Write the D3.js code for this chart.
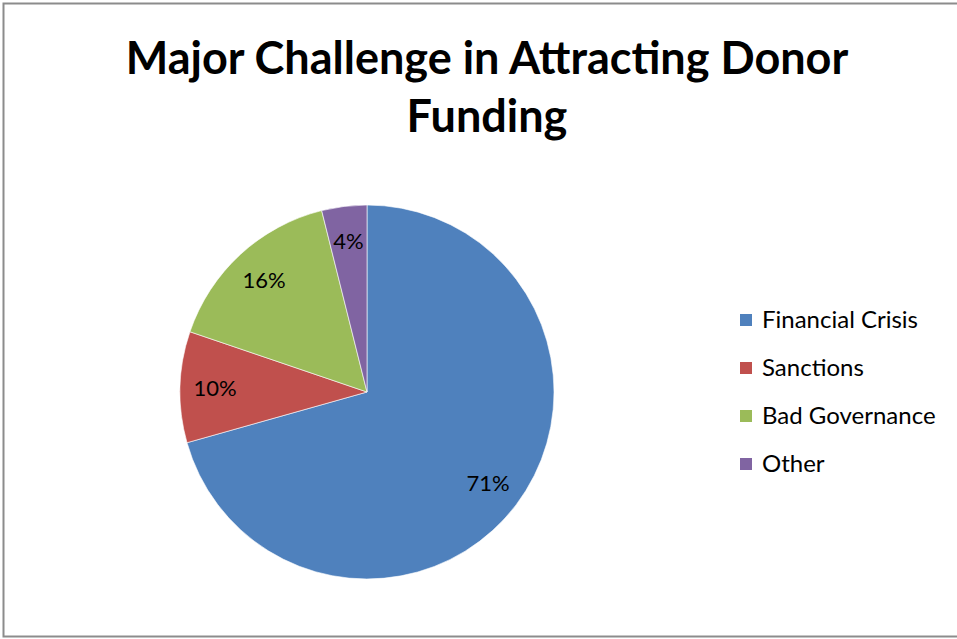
<!DOCTYPE html>
<html>
<head>
<meta charset="utf-8">
<script src="https://cdn.jsdelivr.net/npm/d3@7"></script>
<style>
  body { margin: 0; background: #fff; }
  text { font-family: Lato, 'Open Sans', sans-serif; }
</style>
</head>
<body>
<div id="chart"></div>
<script>
var categories = ['Financial Crisis', 'Sanctions', 'Bad Governance', 'Other'];
var values = [70.7, 9.6, 15.9, 3.9];
var colors = ['#4F81BD', '#C0504D', '#9BBB59', '#8064A2'];
var titleLines = ['Major Challenge in Attracting Donor', 'Funding'];

var width = 957, height = 639;
var cx = 367, cy = 392, radius = 187;

var svg = d3.select('#chart')
  .append('svg')
  .attr('width', width)
  .attr('height', height);

// chart border
svg.append('rect')
  .attr('x', 3.5).attr('y', 3.5)
  .attr('width', width + 10).attr('height', 633)
  .style('fill', 'white')
  .style('stroke', '#8c8c8c')
  .style('stroke-width', 2);

// title
svg.append('g')
  .selectAll('text')
  .data(titleLines)
  .enter()
  .append('text')
  .attr('x', 487)
  .attr('y', (d, i) => 74 + i * 58)
  .attr('text-anchor', 'middle')
  .style('font-size', '45px')
  .style('font-weight', 'bold')
  .style('fill', '#000')
  .text((d) => d);

var data = categories.map((c, i) => ({category: c, value: values[i]}));
var total = d3.sum(values);
var fill = d3.scaleOrdinal().domain(categories).range(colors);

var pie = d3.pie().sort(null).value((d) => d.value);
var arc = d3.arc().innerRadius(0).outerRadius(radius);
var labelArc = d3.arc().innerRadius(152).outerRadius(152);

var g = svg.append('g')
  .attr('transform', 'translate(' + cx + ',' + cy + ')');

g.selectAll('path')
  .data(pie(data))
  .enter()
  .append('path')
  .attr('d', arc)
  .style('fill', (d) => fill(d.data.category))
  .style('stroke', '#fff')
  .style('stroke-width', 0.6);

g.selectAll('text')
  .data(pie(data))
  .enter()
  .append('text')
  .attr('transform', (d) => 'translate(' + labelArc.centroid(d) + ')')
  .attr('text-anchor', 'middle')
  .attr('dy', '0.35em')
  .style('font-size', '22px')
  .style('fill', '#000')
  .text((d) => Math.round(d.data.value / total * 100) + '%');

// legend
var legend = svg.append('g')
  .selectAll('g')
  .data(categories)
  .enter()
  .append('g')
  .attr('transform', (d, i) => 'translate(740,' + (320 + i * 48) + ')');

legend.append('rect')
  .attr('x', 0).attr('y', -6)
  .attr('width', 12).attr('height', 12)
  .style('fill', (d) => fill(d));

legend.append('text')
  .attr('x', 22)
  .attr('dy', '0.35em')
  .style('font-size', '24px')
  .style('fill', '#000')
  .text((d) => d);
</script>
</body>
</html>
